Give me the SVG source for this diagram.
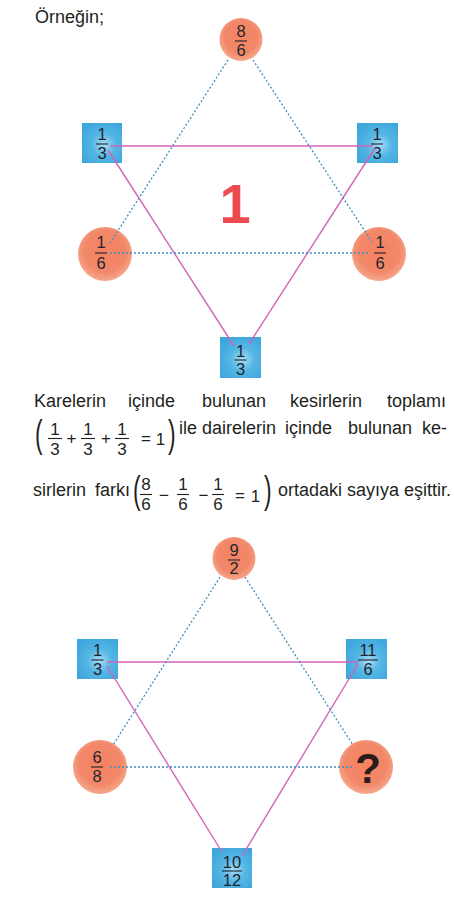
<svg xmlns="http://www.w3.org/2000/svg" width="454" height="897" viewBox="0 0 454 897">
<defs>
<radialGradient id="ball" cx="50%" cy="45%" r="55%">
<stop offset="0" stop-color="#f4825f"/>
<stop offset="0.7" stop-color="#f2886a"/>
<stop offset="1" stop-color="#f6a88c"/>
</radialGradient>
<radialGradient id="box" cx="55%" cy="55%" r="65%">
<stop offset="0" stop-color="#a8dcf4"/>
<stop offset="0.45" stop-color="#55b6e4"/>
<stop offset="1" stop-color="#3da6dc"/>
</radialGradient>
<style>
.t{font-family:"Liberation Sans",Arial,sans-serif;font-size:18px;fill:#231f20}
.par{font-family:"Liberation Sans",Arial,sans-serif;font-size:38px;fill:#231f20}
.f{font-family:"Liberation Sans",Arial,sans-serif;font-size:16.5px;fill:#1d2530;text-anchor:middle}
.p{font-family:"Liberation Sans",Arial,sans-serif;font-size:17px;fill:#231f20;text-anchor:middle}
.bar{stroke:#1d2530;stroke-width:1.1}
.pb{stroke:#231f20;stroke-width:1.1}
.sq{fill:url(#box)}
.ci{fill:url(#ball)}
.pink{stroke:#d463b8;stroke-width:1.4;fill:none}
.blue{stroke:#3f8fc0;stroke-width:1.3;stroke-dasharray:2 2;fill:none}
</style>
</defs>
<rect width="454" height="897" fill="#ffffff"/>
<text class="t" x="35" y="23">Örneğin;</text>

<!-- top diagram nodes -->
<g id="t-top"><circle class="ci" cx="241" cy="39.5" r="21.5"/><text class="f" x="241" y="37">8</text><line class="bar" x1="235" y1="41" x2="247" y2="41"/><text class="f" x="241" y="56">6</text></g>
<g id="t-sqL"><rect class="sq" x="82" y="123" width="40" height="40"/><text class="f" x="102" y="140">1</text><line class="bar" x1="96" y1="144" x2="108" y2="144"/><text class="f" x="102" y="159">3</text></g>
<g id="t-sqR"><rect class="sq" x="357" y="123" width="41" height="40"/><text class="f" x="377" y="140">1</text><line class="bar" x1="371" y1="144" x2="383" y2="144"/><text class="f" x="377" y="159">3</text></g>
<g id="t-ciL"><circle class="ci" cx="105" cy="254" r="27"/><text class="f" x="101" y="248">1</text><line class="bar" x1="95" y1="253" x2="107" y2="253"/><text class="f" x="101" y="269">6</text></g>
<g id="t-ciR"><circle class="ci" cx="379" cy="254" r="27"/><text class="f" x="380" y="248">1</text><line class="bar" x1="374" y1="253" x2="386" y2="253"/><text class="f" x="380" y="269">6</text></g>
<g id="t-sqB"><rect class="sq" x="220" y="337" width="41" height="41"/><text class="f" x="240.5" y="357">1</text><line class="bar" x1="234.5" y1="360" x2="246.5" y2="360"/><text class="f" x="240.5" y="375">3</text></g>
<g id="t-center"><text x="235" y="223" font-family="Liberation Sans,Arial,sans-serif" font-size="56" font-weight="bold" fill="#ee4b50" text-anchor="middle">1</text></g>

<g id="t-connectors">
<line class="pink" x1="110" y1="146" x2="373" y2="146"/>
<line class="pink" x1="108" y1="150" x2="234" y2="346"/>
<line class="pink" x1="375" y1="148" x2="249" y2="344"/>
<line class="blue" x1="228" y1="60" x2="110" y2="243"/>
<line class="blue" x1="253" y1="60" x2="372" y2="242"/>
<line class="blue" x1="110" y1="253" x2="370" y2="253"/>
</g>

<!-- paragraph -->
<g id="para">
<text class="t" y="407"><tspan x="34">Karelerin</tspan><tspan x="128">içinde</tspan><tspan x="202">bulunan</tspan><tspan x="290">kesirlerin</tspan><tspan x="387">toplamı</tspan></text>
<text class="par" transform="translate(35,447) scale(0.6,1)">(</text>
<text class="p" x="55" y="435">1</text><line class="pb" x1="48" y1="438.5" x2="62" y2="438.5"/><text class="p" x="55" y="455">3</text>
<text class="p" x="71.5" y="444">+</text>
<text class="p" x="88" y="435">1</text><line class="pb" x1="81" y1="438.5" x2="95" y2="438.5"/><text class="p" x="88" y="455">3</text>
<text class="p" x="106" y="444">+</text>
<text class="p" x="122" y="435">1</text><line class="pb" x1="115" y1="438.5" x2="129" y2="438.5"/><text class="p" x="122" y="455">3</text>
<text class="p" x="146" y="444">=</text>
<text class="p" x="160.5" y="445">1</text>
<text class="par" transform="translate(168,447) scale(0.6,1)">)</text>
<text class="t" y="434"><tspan x="179">ile</tspan><tspan x="202">dairelerin</tspan><tspan x="285">içinde</tspan><tspan x="348">bulunan</tspan><tspan x="422">ke-</tspan></text>

<text class="t" y="496"><tspan x="33">sirlerin</tspan><tspan x="95">farkı</tspan></text>
<text class="par" transform="translate(133,503) scale(0.6,1)">(</text>
<text class="p" x="146" y="490">8</text><line class="pb" x1="140" y1="494.5" x2="152" y2="494.5"/><text class="p" x="146" y="510">6</text>
<text class="p" x="164" y="501">−</text>
<text class="p" x="183" y="490">1</text><line class="pb" x1="177" y1="494.5" x2="189" y2="494.5"/><text class="p" x="183" y="510">6</text>
<text class="p" x="203.5" y="501">−</text>
<text class="p" x="218" y="490">1</text><line class="pb" x1="212" y1="494.5" x2="224" y2="494.5"/><text class="p" x="218" y="510">6</text>
<text class="p" x="240" y="501">=</text>
<text class="p" x="255.5" y="502">1</text>
<text class="par" transform="translate(264,503) scale(0.6,1)">)</text>
<text class="t" x="278" y="496">ortadaki sayıya eşittir.</text>
</g>

<!-- bottom diagram nodes -->
<g id="b-top"><circle class="ci" cx="234" cy="558.5" r="21.5"/><text class="f" x="234" y="556">9</text><line class="bar" x1="228" y1="560" x2="240" y2="560"/><text class="f" x="234" y="574">2</text></g>
<g id="b-sqL"><rect class="sq" x="77" y="639" width="41" height="40"/><text class="f" x="97.5" y="656">1</text><line class="bar" x1="91.5" y1="660" x2="103.5" y2="660"/><text class="f" x="97.5" y="675">3</text></g>
<g id="b-sqR"><rect class="sq" x="346" y="639" width="41" height="40"/><text class="f" x="368" y="656">11</text><line class="bar" x1="358" y1="660" x2="378" y2="660"/><text class="f" x="368" y="675">6</text></g>
<g id="b-ciL"><circle class="ci" cx="100" cy="767" r="27"/><text class="f" x="97" y="763">6</text><line class="bar" x1="91" y1="767" x2="103" y2="767"/><text class="f" x="97" y="782">8</text></g>
<g id="b-ciR"><circle class="ci" cx="366" cy="767" r="27"/><text x="368" y="783" font-family="Liberation Sans,Arial,sans-serif" font-size="42" font-weight="bold" fill="#2a1c1c" text-anchor="middle">?</text></g>
<g id="b-sqB"><rect class="sq" x="212" y="848" width="40" height="40"/><text class="f" x="232" y="868">10</text><line class="bar" x1="222" y1="871" x2="242" y2="871"/><text class="f" x="232" y="886">12</text></g>

<g id="b-connectors">
<line class="pink" x1="107" y1="662" x2="358" y2="662"/>
<line class="pink" x1="107" y1="666" x2="222" y2="852"/>
<line class="pink" x1="358" y1="664" x2="242" y2="856"/>
<line class="blue" x1="220" y1="577" x2="113" y2="745"/>
<line class="blue" x1="245" y1="577" x2="353" y2="745"/>
<line class="blue" x1="110" y1="767" x2="353" y2="767"/>
</g>
</svg>
